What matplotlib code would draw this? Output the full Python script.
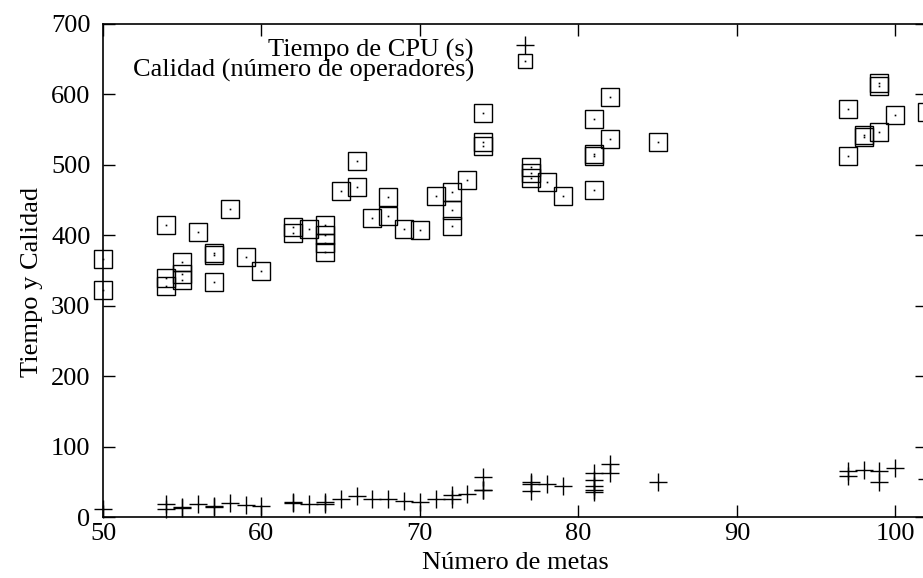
import matplotlib
matplotlib.use("Agg")
import matplotlib.pyplot as plt

# metas vs tiempo de CPU (s)
cpu_metas = [50, 54, 54, 55, 55, 56, 57, 57, 58, 59, 60, 62, 62, 63, 64, 64,
             65, 66, 67, 68, 69, 70, 71, 72, 72, 73, 74, 74, 74, 77, 77, 77,
             78, 79, 81, 81, 81, 81, 81, 82, 82, 85, 97, 97, 98, 99, 99, 100, 102]
cpu_tiempo = [11, 18, 12, 14, 13, 18, 16, 14, 20, 17, 15, 21, 20, 19, 21, 18,
              26, 30, 25, 26, 23, 22, 26, 31, 26, 33, 57, 39, 38, 49, 47, 37,
              47, 44, 63, 52, 44, 39, 35, 75, 62, 50, 65, 58, 67, 66, 50, 69, 54]

# metas vs calidad (numero de operadores)
cal_metas = [50, 50, 54, 54, 54, 55, 55, 55, 56, 57, 57, 57, 58, 59, 60, 62, 62,
             63, 64, 64, 64, 64, 65, 66, 66, 67, 68, 68, 69, 70, 71, 72, 72, 72,
             73, 74, 74, 74, 77, 77, 77, 78, 79, 81, 81, 81, 81, 82, 82, 85,
             97, 97, 98, 98, 99, 99, 99, 100, 102]
cal_valor = [366, 322, 414, 340, 328, 362, 345, 337, 404, 375, 372, 334, 438, 369, 350, 412, 403,
             409, 414, 400, 389, 376, 463, 505, 468, 424, 455, 428, 409, 407, 456, 462, 436, 413,
             478, 573, 533, 527, 497, 489, 481, 476, 456, 565, 515, 512, 464, 597, 537, 533,
             579, 513, 543, 539, 616, 612, 546, 571, 575]

x_ticks = [50, 60, 70, 80, 90, 100]
y_ticks = [0, 100, 200, 300, 400, 500, 600, 700]

plt.rcParams['font.family'] = ['Liberation Serif', 'DejaVu Serif']
plt.rcParams['font.size'] = 19

W, H = 923, 578
fig = plt.figure(figsize=(W / 100, H / 100), dpi=100)
# right border lies just outside the picture, as in the original
ax = fig.add_axes([103 / W, (H - 517) / H, 824 / W, 493 / H])

ax.plot(cpu_metas, cpu_tiempo, ls='none', marker='+', ms=13, mew=1.0,
        color='black', clip_on=False)
ax.plot(cal_metas, cal_valor, ls='none', marker='s', ms=13, mew=1.0,
        mfc='none', mec='black', clip_on=False)
ax.plot(cal_metas, cal_valor, ls='none', marker='s', ms=1.2, mew=0,
        color='black', clip_on=False)

ax.set_xlim(50, 102)
ax.set_ylim(0, 700)
ax.set_xticks(x_ticks)
ax.set_yticks(y_ticks)
ax.tick_params(direction='in', length=8.6, width=1.0, top=True, right=True)
ax.tick_params(axis='x', pad=4.5)
ax.tick_params(axis='y', pad=9)
for s in ax.spines.values():
    s.set_linewidth(1.2)

ax.set_xlabel('Número de metas')
ax.xaxis.set_label_coords(0.5, -0.071)
ax.set_ylabel('Tiempo y Calidad')
ax.yaxis.set_label_coords(-0.073, 0.477)

# gnuplot-style key: right-aligned text, symbol to the right
ax.text(0.450, 0.933, 'Tiempo de CPU (s)', transform=ax.transAxes,
        ha='right', va='baseline')
ax.text(0.450, 0.8925, 'Calidad (número de operadores)', transform=ax.transAxes,
        ha='right', va='baseline')
ax.plot([0.512], [0.957], transform=ax.transAxes, marker='+', ms=13, mew=1.0,
        color='black', clip_on=False)
ax.plot([0.512], [0.925], transform=ax.transAxes, marker='s', ms=10, mew=1.0,
        mfc='none', mec='black', clip_on=False)
ax.plot([0.512], [0.925], transform=ax.transAxes, marker='s', ms=1.2, mew=0,
        color='black', clip_on=False)

fig.savefig('out.png', dpi=100)
